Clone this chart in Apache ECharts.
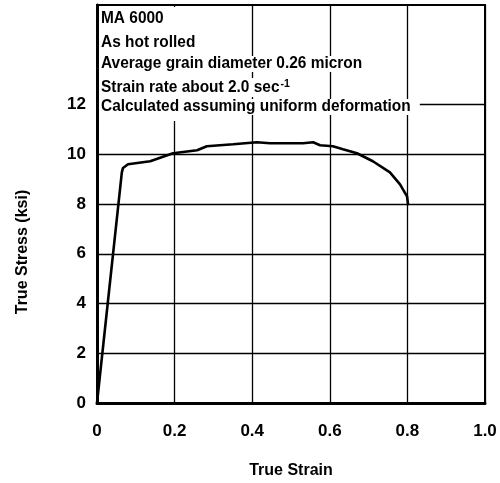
<!DOCTYPE html>
<html>
<head>
<meta charset="utf-8">
<script src="https://cdn.jsdelivr.net/npm/echarts@6/dist/echarts.min.js"></script>
<style>html,body{margin:0;padding:0;background:#fff}#c{width:500px;height:483px}</style>
</head>
<body>
<div id="c"></div>
<script>
// True strain vs true stress (ksi)
const strain = [0, 0.064, 0.067, 0.080, 0.137, 0.196, 0.258, 0.283, 0.351, 0.412, 0.446, 0.531, 0.557, 0.575, 0.608, 0.634, 0.670, 0.711, 0.755, 0.781, 0.799, 0.802];
const stress = [0, 9.27, 9.45, 9.6, 9.72, 10.04, 10.16, 10.32, 10.4, 10.48, 10.44, 10.44, 10.48, 10.36, 10.32, 10.2, 10.04, 9.72, 9.27, 8.79, 8.31, 7.95];
const xTicks = [0, 0.2, 0.4, 0.6, 0.8, 1.0];
const yTicks = [0, 2, 4, 6, 8, 10, 12];
const noteLines = ['MA 6000', 'As hot rolled', 'Average grain diameter 0.26 micron', 'Strain rate about 2.0 sec', 'Calculated assuming uniform deformation'];

const FONT = '"Liberation Sans Narrow", "Arial Narrow", "Liberation Sans", Arial, sans-serif';
const chart = echarts.init(document.getElementById('c'), null, {renderer: 'canvas'});

const gridL = 97, gridR = 15, gridT = 5, gridB = 80;
const noteTops = [11, 35, 56, 78, 99];

const noteGraphics = noteLines.map((t, i) => {
  const isRate = i === 3;
  return {
    type: 'text',
    x: 101,
    y: noteTops[i],
    scaleX: 0.965,
    z: 100,
    style: {
      text: isRate ? '{a|' + t + '}{s|-1}' : t,
      rich: isRate ? {
        a: {fontFamily: FONT, fontSize: 16, fontWeight: 'bold', fill: '#000'},
        s: {fontFamily: FONT, fontSize: 11, fontWeight: 'bold', fill: '#000', verticalAlign: 'top', padding: [0, 0, 8, 1]}
      } : undefined,
      fill: '#000',
      font: 'bold 16px ' + FONT,
      verticalAlign: 'top',
      backgroundColor: '#fff',
      padding: [0, 3, 0, 0]
    }
  };
});

chart.setOption({
  animation: false,
  backgroundColor: '#fff',
  grid: {left: gridL, right: gridR, top: gridT, bottom: gridB, show: true, borderColor: '#000', borderWidth: 2},
  xAxis: {
    type: 'value', min: 0, max: 1.0, interval: 0.2,
    axisLine: {show: true, onZero: false, lineStyle: {color: '#000', width: 3}},
    axisTick: {show: false},
    splitLine: {show: true, lineStyle: {color: '#000', width: 1.3}},
    axisLabel: {
      margin: 20, color: '#000', fontFamily: FONT, fontSize: 17, fontWeight: 'bold',
      formatter: v => { const f = xTicks.find(t => Math.abs(t - v) < 1e-9); return f === undefined ? '' : (f === 0 ? '0' : f.toFixed(1)); }
    }
  },
  yAxis: {
    type: 'value', min: 0, max: 16, interval: 2,
    axisLine: {show: true, onZero: false, lineStyle: {color: '#000', width: 3}},
    axisTick: {show: false},
    splitLine: {show: false},
    axisLabel: {
      margin: 11, color: '#000', fontFamily: FONT, fontSize: 17, fontWeight: 'bold',
      formatter: v => yTicks.indexOf(v) >= 0 ? String(v) : ''
    }
  },
  series: [
    {
      type: 'line',
      data: strain.map((x, i) => [x, stress[i]]),
      showSymbol: false,
      symbol: 'none',
      lineStyle: {color: '#000', width: 2.6},
      z: 5,
      markLine: {
        silent: true, symbol: 'none', label: {show: false},
        lineStyle: {color: '#000', width: 1.3, type: 'solid'},
        data: [
          [{coord: [0, 2]}, {coord: [1, 2]}],
          [{coord: [0, 4]}, {coord: [1, 4]}],
          [{coord: [0, 6]}, {coord: [1, 6]}],
          [{coord: [0, 8]}, {coord: [1, 8]}],
          [{coord: [0, 10]}, {coord: [1, 10]}],
          [{coord: [0.832, 12]}, {coord: [1, 12]}]
        ]
      }
    }
  ],
  graphic: [
    {type: 'rect', z: 90, shape: {x: 99, y: 7, width: 100, height: 114}, style: {fill: '#fff'}},
    ...noteGraphics,
    {
      type: 'text', z: 100, x: 23, y: 252, rotation: Math.PI / 2,
      style: {text: 'True Stress (ksi)', font: 'bold 16px ' + FONT, fill: '#000', align: 'center', verticalAlign: 'middle'}
    },
    {
      type: 'text', z: 100, x: 291, y: 471,
      style: {text: 'True Strain', font: 'bold 16px ' + FONT, fill: '#000', align: 'center', verticalAlign: 'middle'}
    }
  ]
});
</script>
</body>
</html>
